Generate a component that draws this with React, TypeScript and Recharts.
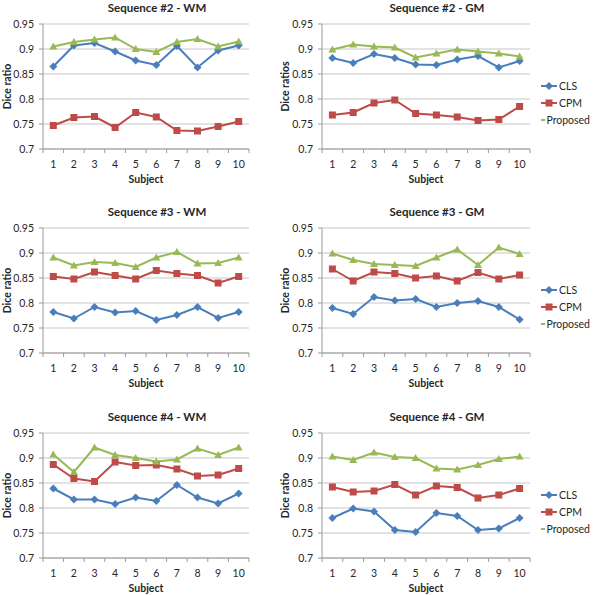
import { LineChart, Line, XAxis, YAxis, CartesianGrid, Legend, Label } from "recharts"

const subjects = [1, 2, 3, 4, 5, 6, 7, 8, 9, 10]
const yTicks = [0.7, 0.75, 0.8, 0.85, 0.9, 0.95]

// Sequence #2
const seq2WmCls = [0.865, 0.907, 0.912, 0.895, 0.877, 0.868, 0.906, 0.863, 0.897, 0.907]
const seq2WmCpm = [0.747, 0.763, 0.765, 0.743, 0.773, 0.764, 0.737, 0.736, 0.745, 0.755]
const seq2WmProposed = [0.905, 0.914, 0.919, 0.923, 0.9, 0.894, 0.914, 0.92, 0.905, 0.915]
const seq2GmCls = [0.882, 0.872, 0.89, 0.882, 0.869, 0.868, 0.879, 0.886, 0.863, 0.876]
const seq2GmCpm = [0.768, 0.773, 0.792, 0.798, 0.771, 0.768, 0.764, 0.757, 0.759, 0.785]
const seq2GmProposed = [0.899, 0.909, 0.905, 0.903, 0.883, 0.891, 0.899, 0.895, 0.891, 0.885]

// Sequence #3
const seq3WmCls = [0.782, 0.769, 0.792, 0.781, 0.784, 0.766, 0.776, 0.792, 0.77, 0.782]
const seq3WmCpm = [0.853, 0.848, 0.862, 0.855, 0.848, 0.865, 0.859, 0.855, 0.84, 0.853]
const seq3WmProposed = [0.891, 0.875, 0.882, 0.88, 0.872, 0.891, 0.902, 0.879, 0.88, 0.891]
const seq3GmCls = [0.79, 0.778, 0.812, 0.805, 0.808, 0.792, 0.8, 0.804, 0.792, 0.767]
const seq3GmCpm = [0.868, 0.844, 0.862, 0.859, 0.85, 0.854, 0.844, 0.861, 0.848, 0.856]
const seq3GmProposed = [0.899, 0.886, 0.878, 0.876, 0.874, 0.891, 0.907, 0.876, 0.911, 0.898]

// Sequence #4
const seq4WmCls = [0.839, 0.817, 0.817, 0.808, 0.821, 0.814, 0.846, 0.821, 0.809, 0.829]
const seq4WmCpm = [0.887, 0.859, 0.853, 0.892, 0.885, 0.886, 0.878, 0.864, 0.866, 0.879]
const seq4WmProposed = [0.907, 0.872, 0.921, 0.906, 0.9, 0.893, 0.897, 0.919, 0.906, 0.921]
const seq4GmCls = [0.78, 0.799, 0.793, 0.756, 0.752, 0.79, 0.784, 0.756, 0.759, 0.78]
const seq4GmCpm = [0.842, 0.832, 0.834, 0.847, 0.826, 0.844, 0.841, 0.82, 0.826, 0.839]
const seq4GmProposed = [0.903, 0.896, 0.911, 0.902, 0.9, 0.879, 0.877, 0.886, 0.898, 0.903]

const series = [
  { key: "cls", name: "CLS", color: "#4a7ebb", shape: "diamond" },
  { key: "cpm", name: "CPM", color: "#be4b48", shape: "square" },
  { key: "proposed", name: "Proposed", color: "#98b954", shape: "triangle" },
]

const panels = [
  { title: "Sequence #2 - WM", yLabel: "Dice ratio", cls: seq2WmCls, cpm: seq2WmCpm, proposed: seq2WmProposed, col: 0, row: 0 },
  { title: "Sequence #2 - GM", yLabel: "Dice ratios", cls: seq2GmCls, cpm: seq2GmCpm, proposed: seq2GmProposed, col: 1, row: 0 },
  { title: "Sequence #3 - WM", yLabel: "Dice ratio", cls: seq3WmCls, cpm: seq3WmCpm, proposed: seq3WmProposed, col: 0, row: 1 },
  { title: "Sequence #3 - GM", yLabel: "Dice ratio", cls: seq3GmCls, cpm: seq3GmCpm, proposed: seq3GmProposed, col: 1, row: 1 },
  { title: "Sequence #4 - WM", yLabel: "Dice ratio", cls: seq4WmCls, cpm: seq4WmCpm, proposed: seq4WmProposed, col: 0, row: 2 },
  { title: "Sequence #4 - GM", yLabel: "Dice ratio", cls: seq4GmCls, cpm: seq4GmCpm, proposed: seq4GmProposed, col: 1, row: 2 },
]

const FONT = "Lato, 'Noto Sans', sans-serif"
const TEXT = "#262626"
const AXIS = "#9a9a9a"
const GRID = "#c6c6c6"
const ROW_TOP = [0, 204, 409]
const CHART_H = 195

function Marker({ cx, cy, shape, color }: any) {
  if (cx == null || cy == null) return null
  if (shape === "diamond") {
    return <polygon points={`${cx},${cy - 4} ${cx + 4},${cy} ${cx},${cy + 4} ${cx - 4},${cy}`} fill={color} />
  }
  if (shape === "square") {
    return <rect x={cx - 3.5} y={cy - 3.5} width={7} height={7} fill={color} />
  }
  return <polygon points={`${cx},${cy - 4} ${cx + 4},${cy + 3} ${cx - 4},${cy + 3}`} fill={color} />
}

function SubjectTick({ x, y, payload, index, step }: any) {
  return (
    <g>
      <line x1={x - step / 2} x2={x - step / 2} y1={y} y2={y + 4} stroke={AXIS} />
      {index === subjects.length - 1 && <line x1={x + step / 2} x2={x + step / 2} y1={y} y2={y + 4} stroke={AXIS} />}
      <text x={x} y={y + 15} textAnchor="middle" dominantBaseline="central" fontSize={10.5} fill={TEXT} fontFamily={FONT}>
        {payload.value}
      </text>
    </g>
  )
}

function LegendBox() {
  return (
    <div style={{ fontFamily: FONT, fontSize: 10.5, color: TEXT }}>
      {series.map((s) => (
        <div key={s.key} style={{ display: "flex", alignItems: "center", height: 17 }}>
          <svg width={18} height={12} style={{ marginLeft: 10 }}>
            <line x1={1} x2={17} y1={6} y2={6} stroke={s.color} strokeWidth={2} />
            <Marker cx={9} cy={6} shape={s.shape} color={s.color} />
          </svg>
          <span style={{ marginLeft: 1 }}>{s.name}</span>
        </div>
      ))}
    </div>
  )
}

function Panel({ panel }: any) {
  const right = panel.col === 1
  const left = right ? 278 : 0
  const width = right ? 323 : 260
  const yAxisW = right ? 44 : 43
  const plotW = right ? 208 : 206
  const step = plotW / subjects.length
  const data = subjects.map((s, i) => ({
    subject: s,
    cls: panel.cls[i],
    cpm: panel.cpm[i],
    proposed: panel.proposed[i],
  }))
  const titleCenter = left + yAxisW + plotW / 2 + 11

  return (
    <div style={{ position: "absolute", left: 0, top: ROW_TOP[panel.row], width: 601, height: CHART_H }}>
      <div
        style={{
          position: "absolute",
          left: titleCenter - 100,
          width: 200,
          top: 0,
          textAlign: "center",
          fontFamily: FONT,
          fontWeight: 700,
          fontSize: 11.5,
          color: TEXT,
          lineHeight: "15px",
        }}
      >
        {panel.title}
      </div>
      <div style={{ position: "absolute", left, top: 0 }}>
        <LineChart width={width} height={CHART_H} data={data} margin={{ top: 24, right: 11, bottom: 6, left: 0 }}>
          <CartesianGrid vertical={false} horizontal stroke={GRID} />
          <XAxis
            dataKey="subject"
            type="category"
            interval={0}
            height={40}
            padding={{ left: step / 2, right: step / 2 }}
            axisLine={{ stroke: AXIS }}
            tickLine={false}
            tickSize={0}
            tickMargin={0}
            tick={<SubjectTick step={step} />}
          >
            <Label
              content={({ viewBox }: any) => (
                <text
                  x={viewBox.x + viewBox.width / 2}
                  y={viewBox.y + 30}
                  textAnchor="middle"
                  dominantBaseline="central"
                  fontSize={10.5}
                  fontWeight={700}
                  fill={TEXT}
                  fontFamily={FONT}
                >
                  Subject
                </text>
              )}
            />
          </XAxis>
          <YAxis
            type="number"
            domain={[0.7, 0.95]}
            ticks={yTicks}
            width={yAxisW}
            axisLine={{ stroke: AXIS }}
            tickLine={{ stroke: AXIS }}
            tickSize={4}
            tickMargin={5}
            tick={{ fontSize: 10.5, fill: TEXT, fontFamily: FONT }}
          >
            <Label
              content={({ viewBox }: any) => {
                const cx = viewBox.x + 7
                const cy = viewBox.y + viewBox.height / 2
                return (
                  <text
                    x={cx}
                    y={cy}
                    transform={`rotate(-90 ${cx} ${cy})`}
                    textAnchor="middle"
                    dominantBaseline="central"
                    fontSize={10.5}
                    fontWeight={700}
                    fill={TEXT}
                    fontFamily={FONT}
                  >
                    {panel.yLabel}
                  </text>
                )
              }}
            />
          </YAxis>
          {right && (
            <Legend
              layout="vertical"
              align="right"
              verticalAlign="top"
              content={() => <LegendBox />}
              wrapperStyle={{ width: 60, top: 77 }}
            />
          )}
          {series.map((s) => (
            <Line
              key={s.key}
              type="linear"
              dataKey={s.key}
              name={s.name}
              stroke={s.color}
              strokeWidth={2}
              isAnimationActive={false}
              dot={(p: any) => <Marker key={`${s.key}-${p.index}`} cx={p.cx} cy={p.cy} shape={s.shape} color={s.color} />}
              activeDot={false}
            />
          ))}
        </LineChart>
      </div>
    </div>
  )
}

export default function App() {
  return (
    <div style={{ position: "absolute", left: 0, top: 0, width: 601, height: 595, background: "#fff" }}>
      {panels.map((p) => (
        <Panel key={p.title} panel={p} />
      ))}
    </div>
  )
}
